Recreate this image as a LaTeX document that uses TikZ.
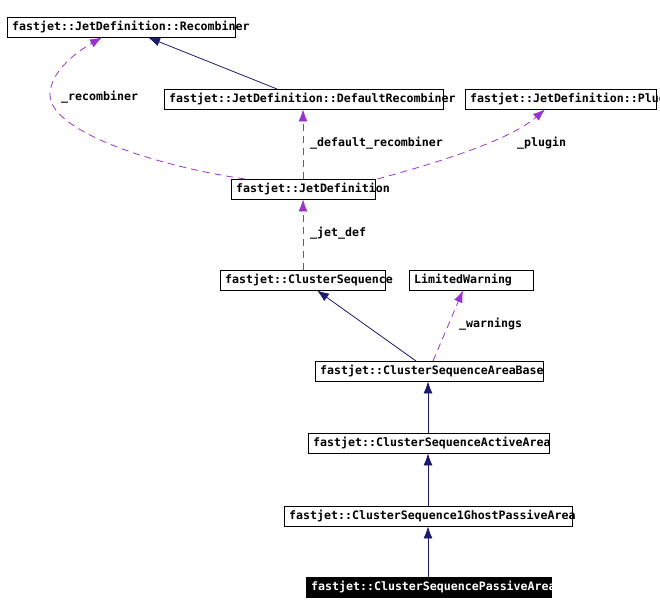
\documentclass[tikz,border=0pt]{standalone}
\usepackage{fontspec}
\newfontfamily\dxmono{DejaVu Sans Mono}
\usetikzlibrary{calc,arrows.meta}
\definecolor{edgeblue}{RGB}{25,25,112}
\definecolor{edgepurple}{RGB}{154,50,205}
\newcommand{\dxfont}{\dxmono\bfseries\fontsize{11.6}{13}\selectfont\hyphenpenalty=10000 }

\begin{document}
\begin{tikzpicture}[x=1pt,y=-1pt,
    cls/.style={draw, anchor=north west, inner xsep=5pt, inner ysep=0pt, minimum height=20pt, text width=#1, align=left, font=\dxfont},
    lbl/.style={anchor=west, inner sep=0pt, font=\dxfont},
    inh/.style={draw=edgeblue, line width=0.8pt, -{Latex[length=12pt,width=9pt]}},
    use/.style={draw=edgepurple, line width=0.8pt, dash pattern=on 7pt off 5pt, -{Latex[length=12pt,width=9pt]}}]
    \useasboundingbox (0,0) rectangle (660,614);

    \node[cls=218pt] at (7,17) (rec) {fastjet::JetDefinition::Recombiner};
    \node[cls=269pt] at (164,89) (defrec) {fastjet::JetDefinition::DefaultRecombiner};
    \node[cls=181pt] at (465,89) (plugin) {fastjet::JetDefinition::Plugin};
    \node[cls=134pt] at (231,179) (jetdef) {fastjet::JetDefinition};
    \node[cls=155pt] at (220,270) (cs) {fastjet::ClusterSequence};
    \node[cls=114pt] at (409,270) (warn) {LimitedWarning};
    \node[cls=218pt] at (315,361) (areabase) {fastjet::ClusterSequenceAreaBase};
    \node[cls=231pt] at (308,433) (active) {fastjet::ClusterSequenceActiveArea};
    \node[cls=278pt] at (284,506) (ghost) {fastjet::ClusterSequence1GhostPassiveArea};
    \node[cls=235pt, fill=black, text=white] at (306,577) (passive) {fastjet::ClusterSequencePassiveArea};

    % inheritance
    \draw[inh] ($(defrec.north west)+(113,0)$) -- ($(rec.south west)+(141,0)$);
    \draw[inh] ($(areabase.north west)+(101,0)$) -- ($(cs.south west)+(97,0)$);
    \draw[inh] ($(active.north west)+(120,0)$) -- ($(areabase.south west)+(113,0)$);
    \draw[inh] ($(ghost.north west)+(144,0)$) -- ($(active.south west)+(120,0)$);
    \draw[inh] ($(passive.north west)+(122,0)$) -- ($(ghost.south west)+(144,0)$);

    % members
    \draw[use] ($(jetdef.north west)+(14,0)$) .. controls (150,165) and (50,130) .. (50,95)
        .. controls (50,70) and (80,50) .. ($(rec.south west)+(95,0)$);
    \node[lbl] at (61,97) (lrec) {\_recombiner};
    \draw[use] ($(jetdef.north west)+(72,0)$) -- ($(defrec.south west)+(139,0)$);
    \node[lbl] at (310,143) (ldef) {\_default\_recombiner};
    \draw[use] ($(jetdef.north east)+(2,0)$) .. controls (440,162) and (510,140) .. ($(plugin.south west)+(80,0)$);
    \node[lbl] at (517,143) (lplug) {\_plugin};
    \draw[use] ($(cs.north west)+(83,0)$) -- ($(jetdef.south west)+(72,0)$);
    \node[lbl] at (310,233) (ljet) {\_jet\_def};
    \draw[use] ($(areabase.north west)+(118,0)$) -- ($(warn.south west)+(54,0)$);
    \node[lbl] at (459,324) (lwarn) {\_warnings};
\end{tikzpicture}
\end{document}
